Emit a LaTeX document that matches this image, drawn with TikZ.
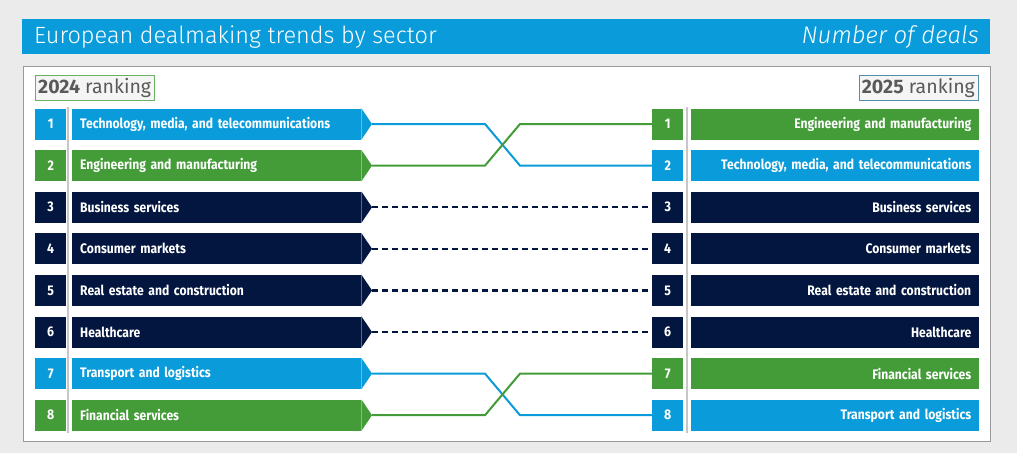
\documentclass[tikz,border=0pt]{standalone}
\usepackage{fontspec}
\setmainfont{Fira Sans}
\newfontfamily\labfont[FakeStretch=0.88]{Fira Sans}
\newfontfamily\ttlfont{Fira Sans Light}
\usetikzlibrary{calc}
\definecolor{kblue}{HTML}{0A9CDA}
\definecolor{kgreen}{HTML}{449C38}
\definecolor{knavy}{HTML}{03163F}
\definecolor{bgc}{HTML}{EBEBEB}
\definecolor{pborder}{HTML}{9A9A9A}
\definecolor{rtext}{HTML}{5A5A5A}
\tikzset{
  numbox/.style={fill=#1, text=white, minimum width=31pt, minimum height=31pt, inner sep=0pt,
    font=\labfont\bfseries\fontsize{14}{16}\selectfont},
  lbody/.style={fill=#1, text=white, text width=273pt, inner xsep=8pt, inner ysep=0pt,
    minimum height=31pt, align=left, font=\labfont\bfseries\fontsize{13.8}{15}\selectfont},
  rbody/.style={fill=#1, text=white, text width=272pt, inner xsep=8pt, inner ysep=0pt,
    minimum height=31pt, align=right, font=\labfont\bfseries\fontsize{13.8}{15}\selectfont},
  solidline/.style={draw=#1, line width=2pt},
  dashline/.style={draw=knavy, line width=2.4pt, dash pattern=on 6pt off 4pt},
  rankbox/.style={draw=#1, fill=white!96!black, inner xsep=3pt, inner ysep=3pt, text=rtext,
    font=\fontsize{19.5}{21}\selectfont},
}
\begin{document}
\begin{tikzpicture}[x=1pt,y=-1pt]
\fill[bgc] (0,0) rectangle (1017,453);
\useasboundingbox (0,0) rectangle (1017,453);
% title bar
\node[fill=kblue, minimum width=968pt, minimum height=35pt, inner sep=0pt, anchor=north west] (bar) at (22,19) {};
\node[anchor=west, text=white, inner sep=0pt, font=\ttlfont\fontsize{23.5}{28}\selectfont] (ttl) at (34,37) {European dealmaking trends by sector};
\node[anchor=east, text=white, inner sep=0pt, font=\ttlfont\itshape\fontsize{24}{28}\selectfont] (nod) at (979,37) {Number of deals};
% panel
\node[draw=pborder, line width=1pt, fill=white, minimum width=967pt, minimum height=375pt, inner sep=0pt, anchor=north west] (panel) at (23,66) {};
\node[rankbox=kgreen!80, anchor=north west] (r24) at (35,75) {\textbf{2024} ranking};
\node[rankbox=kblue!60!black!70, anchor=north east] (r25) at (978,75) {\textbf{2025} ranking};
% separators
\draw[black!22, line width=1.2pt] (68,107) -- (68,433);
\draw[black!22, line width=1.2pt] (687,107) -- (687,433);
% rows
\foreach \i/\lc/\lt/\rc/\rt in {
  1/kblue/{Technology, media, and telecommunications}/kgreen/{Engineering and manufacturing},
  2/kgreen/{Engineering and manufacturing}/kblue/{Technology, media, and telecommunications},
  3/knavy/{Business services}/knavy/{Business services},
  4/knavy/{Consumer markets}/knavy/{Consumer markets},
  5/knavy/{Real estate and construction}/knavy/{Real estate and construction},
  6/knavy/{Healthcare}/knavy/{Healthcare},
  7/kblue/{Transport and logistics}/kgreen/{Financial services},
  8/kgreen/{Financial services}/kblue/{Transport and logistics}} {
  \pgfmathsetmacro{\yy}{124+(\i-1)*41.6}
  \node[numbox=\lc, anchor=west] (ln\i) at (35,\yy) {\i};
  \node[lbody=\lc, anchor=west] (lb\i) at (72,\yy) {\lt};
  \coordinate (lt\i) at (372,\yy);
  \fill[\lc] (lb\i.north east) -- (lt\i) -- (lb\i.south east) -- cycle;
  \node[rbody=\rc, anchor=west] (rb\i) at (691,\yy) {\rt};
  \coordinate (rw\i) at (652,\yy);
}
% connectors
\foreach \i in {3,4,5,6} { \draw[dashline] (lt\i) -- (rw\i); }
\draw[solidline=kblue] (lt1) -- ([xshift=113pt]lt1) -- ([xshift=-132pt]rw2) -- (rw2);
\draw[solidline=kgreen] (lt2) -- ([xshift=113pt]lt2) -- ([xshift=-132pt]rw1) -- (rw1);
\draw[solidline=kblue] (lt7) -- ([xshift=113pt]lt7) -- ([xshift=-132pt]rw8) -- (rw8);
\draw[solidline=kgreen] (lt8) -- ([xshift=113pt]lt8) -- ([xshift=-132pt]rw7) -- (rw7);
% right number boxes on top
\foreach \i/\rc in {1/kgreen,2/kblue,3/knavy,4/knavy,5/knavy,6/knavy,7/kgreen,8/kblue} {
  \node[numbox=\rc, anchor=west] (rn\i) at (rw\i) {\i};
}
\end{tikzpicture}
\end{document}
